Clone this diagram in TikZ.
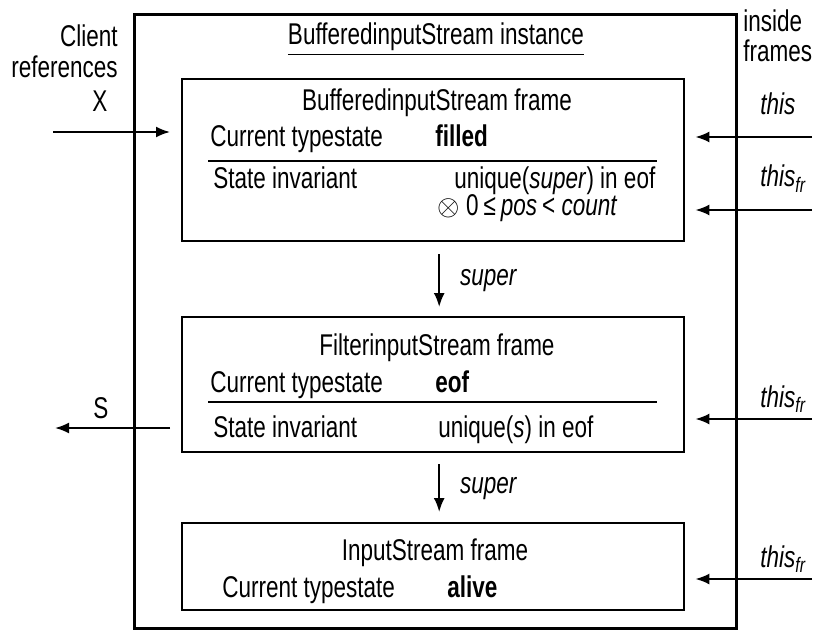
\documentclass[tikz,border=0pt]{standalone}
\usepackage{fontspec}
\setmainfont{Liberation Sans}[FakeStretch=0.75]
\usetikzlibrary{arrows.meta, positioning}

\newcommand{\diagfont}{\fontsize{15pt}{18pt}\selectfont}

\begin{document}
\begin{tikzpicture}[
    x=0.5pt, y=-0.5pt,
    font=\diagfont,
    >=Latex,
    framebox/.style={
        draw,
        line width=1.2pt,
        inner sep=0pt,
        anchor=north west,
        minimum width=251pt
    },
    txt/.style={
        inner sep=0pt,
        anchor=base west
    },
    sep/.style={
        line width=0.7pt
    },
    ref/.style={
        -{Latex[length=7pt,width=5.5pt]},
        line width=1pt
    }
]

\useasboundingbox (0,0) rectangle (817,630);

% Instance box
\node[framebox, line width=1.5pt, minimum width=301pt, minimum height=307pt] (instance) at (133,13) {};
\node[txt, anchor=base] (insttitle) at (436,45) {\underline{BufferedinputStream instance}};

% Frames
\node[framebox, minimum height=81pt] (bisframe) at (181,78) {};
\node[framebox, minimum height=67.5pt] (fisframe) at (181,316) {};
\node[framebox, minimum height=43.5pt] (isframe) at (181,522) {};

% BufferedinputStream frame
\node[txt, anchor=base] (bistitle) at (437,111) {BufferedinputStream frame};
\node[txt] (bisstate) at (210,147) {Current typestate};
\node[txt] (bisfilled) at (435,147) {\bfseries filled};
\draw[sep] (208,161) -- (657,161);
\node[txt] (bisinv) at (213,189) {State invariant};
\node[txt] (bisuniq) at (454,189) {unique(\textit{super}) in eof};
\node[txt] (biscount) at (437,216) {$\otimes$\ 0\,≤\,\textit{pos}\,<\ \textit{count}};

% FilterinputStream frame
\node[txt, anchor=base] (fistitle) at (437,355) {FilterinputStream frame};
\node[txt] (fisstate) at (210,392) {Current typestate};
\node[txt] (fiseof) at (435,392) {\bfseries eof};
\draw[sep] (208,402) -- (657,402);
\node[txt] (fisinv) at (213,437) {State invariant};
\node[txt] (fisuniq) at (438,437) {unique(\textit{s}) in eof};

% InputStream frame
\node[txt, anchor=base] (istitle) at (435,560) {InputStream frame};
\node[txt] (isstate) at (222,597) {Current typestate};
\node[txt] (isalive) at (447,597) {\bfseries alive};

% super links
\draw[ref] ([xshift=3pt,yshift=-6pt]bisframe.south) -- node[inner sep=0pt, right=10pt] {\textit{super}} ([xshift=3pt,yshift=4.5pt]fisframe.north);
\draw[ref] ([xshift=3pt,yshift=-5.5pt]fisframe.south) -- node[inner sep=0pt, right=10pt] {\textit{super}} ([xshift=3pt,yshift=5pt]isframe.north);

% Client references
\node[txt, anchor=base east] (client) at (118,47) {Client};
\node[txt, anchor=base east] (clientrefs) at (118,78) {references};
\node[txt, anchor=base] (xlabel) at (100,112) {X};
\coordinate (xsrc) at (53,132);
\draw[ref, shorten >=5.5pt] (xsrc) -- (bisframe.west |- xsrc);
\node[txt, anchor=base] (slabel) at (101,418) {S};
\coordinate (sdst) at (55,428);
\draw[ref, shorten <=5.5pt] (fisframe.west |- sdst) -- (sdst);

% Inside frames
\node[txt] (inside) at (743,32) {inside};
\node[txt] (insideframes) at (743,62) {frames};
\node[txt] (thislabel) at (760,115) {\textit{this}};
\coordinate (thissrc) at (812,137);
\draw[ref, shorten >=5pt] (thissrc) -- (bisframe.east |- thissrc);
\node[txt] (thisfrA) at (760,187) {\textit{this\textsubscript{fr}}};
\coordinate (thisfrAsrc) at (812,210);
\draw[ref, shorten >=5pt] (thisfrAsrc) -- (bisframe.east |- thisfrAsrc);
\node[txt] (thisfrB) at (760,407) {\textit{this\textsubscript{fr}}};
\coordinate (thisfrBsrc) at (812,419);
\draw[ref, shorten >=5pt] (thisfrBsrc) -- (fisframe.east |- thisfrBsrc);
\node[txt] (thisfrC) at (760,567) {\textit{this\textsubscript{fr}}};
\coordinate (thisfrCsrc) at (812,579);
\draw[ref, shorten >=5pt] (thisfrCsrc) -- (isframe.east |- thisfrCsrc);

\end{tikzpicture}
\end{document}
